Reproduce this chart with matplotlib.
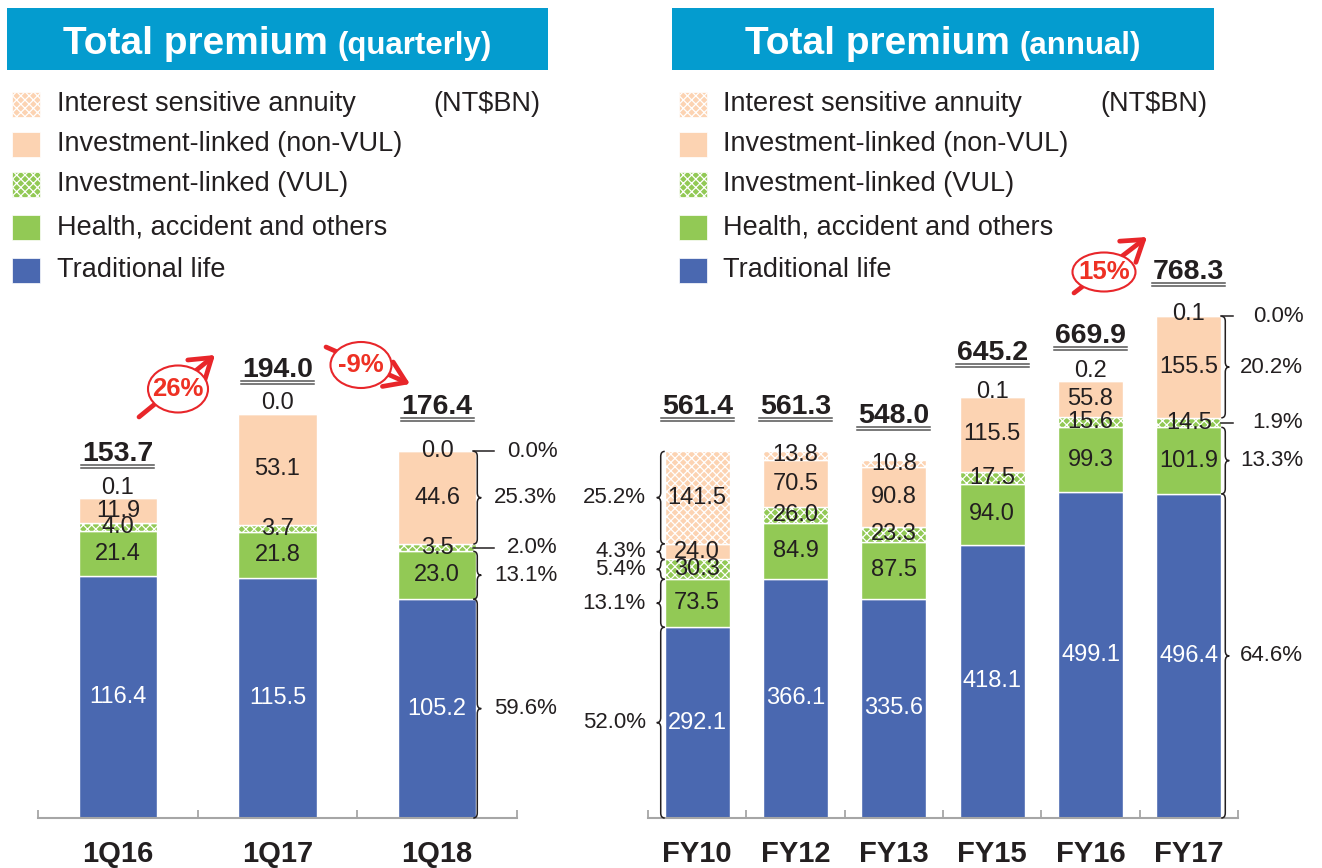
import matplotlib
matplotlib.use("Agg")
import matplotlib.pyplot as plt
import numpy as np
from matplotlib.patches import Rectangle, Ellipse, FancyArrowPatch, PathPatch
from matplotlib.path import Path
from matplotlib.lines import Line2D
from matplotlib.transforms import IdentityTransform

plt.rcParams['font.family'] = ['Liberation Sans', 'DejaVu Sans']
plt.rcParams['hatch.linewidth'] = 0.9

# ---------------- data ----------------
series = ["Traditional life", "Health, accident and others",
          "Investment-linked (VUL)", "Investment-linked (non-VUL)",
          "Interest sensitive annuity"]

q_cats = ["1Q16", "1Q17", "1Q18"]
q_trad = [116.4, 115.5, 105.2]
q_health = [21.4, 21.8, 23.0]
q_vul = [4.0, 3.7, 3.5]
q_nonvul = [11.9, 53.1, 44.6]
q_annuity = [0.1, 0.0, 0.0]
q_totals = ["153.7", "194.0", "176.4"]
q_pct_1Q18 = [59.6, 13.1, 2.0, 25.3, 0.0]

a_cats = ["FY10", "FY12", "FY13", "FY15", "FY16", "FY17"]
a_trad = [292.1, 366.1, 335.6, 418.1, 499.1, 496.4]
a_health = [73.5, 84.9, 87.5, 94.0, 99.3, 101.9]
a_vul = [30.3, 26.0, 23.3, 17.5, 15.6, 14.5]
a_nonvul = [24.0, 70.5, 90.8, 115.5, 55.8, 155.5]
a_annuity = [141.5, 13.8, 10.8, 0.1, 0.2, 0.1]
a_totals = ["561.4", "561.3", "548.0", "645.2", "669.9", "768.3"]
a_pct_FY10 = [52.0, 13.1, 5.4, 4.3, 25.2]
a_pct_FY17 = [64.6, 13.3, 1.9, 20.2, 0.0]

growth_labels = ["26%", "-9%", "15%"]
unit_label = "(NT$BN)"

# ---------------- style ----------------
W, H = 1322, 868
DARK = '#231F20'
RED = '#E8262A'
RED_TXT = '#EE3124'
BANNER = '#049CCF'
styles = [
    dict(color='#4A68B0', hatch=None),
    dict(color='#92C955', hatch=None),
    dict(color='#92C955', hatch='xxxx'),
    dict(color='#FCD3B2', hatch=None),
    dict(color='#FCD3B2', hatch='xxxx'),
]
q_lift_px = [10, 11, 0]
a_lift_px = [0, -4, -4, 5, 9, 2]

fig = plt.figure(figsize=(W / 100, H / 100), dpi=100)
fig.patch.set_facecolor('white')


def fx(x):
    return x / W


def fy(y):
    return 1 - y / H


def add_axes_px(x0, x1, ytop, ybot):
    return fig.add_axes([x0 / W, 1 - ybot / H, (x1 - x0) / W, (ybot - ytop) / H])


q_ymax, a_ymax = 200, 800
axq = add_axes_px(38, 517, 818 - q_ymax * 2.08, 818)
axa = add_axes_px(648, 1238, 818 - a_ymax * 0.653, 818)

renderer = fig.canvas.get_renderer()


def setup(ax, cats, ymax):
    n = len(cats)
    ax.set_xlim(-0.5, n - 0.5)
    ax.set_ylim(0, ymax)
    ax.patch.set_alpha(0)
    for s in ['top', 'left', 'right']:
        ax.spines[s].set_visible(False)
    ax.spines['bottom'].set_color('#A6A6A6')
    ax.spines['bottom'].set_linewidth(1.5)
    ax.set_yticks([])
    ax.set_xticks(range(n))
    ax.set_xticklabels(cats, fontsize=21, fontweight='bold', color=DARK)
    ax.set_xticks(np.arange(-0.5, n, 1.0), minor=True)
    ax.tick_params(axis='x', which='major', length=0, pad=16)
    ax.tick_params(axis='x', which='minor', direction='in', length=6,
                   width=1.3, color='#A6A6A6')


def ppu(ax):
    bb = ax.get_window_extent(renderer)
    x0, x1 = ax.get_xlim()
    y0, y1 = ax.get_ylim()
    return bb.width / (x1 - x0), bb.height / (y1 - y0)


def draw_panel(ax, cats, stacks, totals, lifts, bw):
    n = len(cats)
    x = np.arange(n)
    xp, yp = ppu(ax)
    bottom = np.zeros(n)
    for i, (vals, st) in enumerate(zip(stacks, styles)):
        vals = np.array(vals)
        ax.bar(x, vals, width=bw, bottom=bottom, color=st['color'],
               hatch=st['hatch'], edgecolor='white', linewidth=1.0, zorder=2)
        for j in range(n):
            v = vals[j]
            if i == 4 and v * yp < 12:
                yc = bottom[j] + v + lifts[j] / yp
            else:
                yc = bottom[j] + v / 2
            ax.text(x[j], yc, f"{v:.1f}", ha='center', va='center',
                    fontsize=17, color='white' if i == 0 else DARK, zorder=4)
        bottom = bottom + vals
    # totals with double underline
    for j in range(n):
        top = bottom[j]
        t = ax.annotate(totals[j], xy=(x[j], top), xytext=(0, 37 * 0.72),
                        textcoords='offset points', ha='center', va='baseline',
                        fontsize=20.5, fontweight='bold', color=DARK, zorder=4)
        bb = t.get_window_extent(renderer)
        base_y = ax.transData.transform((x[j], top))[1] + 37
        for dy in (4, 7):
            fig.add_artist(Line2D([bb.x0 - 1, bb.x1 + 1], [base_y - dy, base_y - dy],
                                  transform=IdentityTransform(), color='#555555',
                                  lw=1.1))
    return bottom


def brace(ax, xb, y0, y1, d, w_px=8, r_px=5):
    xp, yp = ppu(ax)
    w = d * w_px / xp
    r = min(r_px, (y1 - y0) * yp / 4) / yp
    xm = xb + w / 2
    xt = xb + w
    ym = (y0 + y1) / 2
    verts = [(xb, y0), (xm, y0), (xm, y0 + r), (xm, ym - r), (xm, ym), (xt, ym),
             (xm, ym), (xm, ym + r), (xm, y1 - r), (xm, y1), (xb, y1)]
    codes = [Path.MOVETO, Path.CURVE3, Path.CURVE3, Path.LINETO, Path.CURVE3,
             Path.CURVE3, Path.CURVE3, Path.CURVE3, Path.LINETO, Path.CURVE3,
             Path.CURVE3]
    ax.add_patch(PathPatch(Path(verts, codes), fill=False, edgecolor=DARK,
                           lw=1.1, clip_on=False, zorder=5))


def bar_shares(ax, j, stacks, pcts, bw, side, base_off, line_a, line_b, txt_off):
    xp, yp = ppu(ax)
    d = 1 if side == 'right' else -1
    edge = j + d * bw / 2
    b = 0.0
    for i, p in enumerate(pcts):
        v = stacks[i][j]
        y0, y1 = b, b + v
        ym = (y0 + y1) / 2
        if v * yp < 12:
            ax.plot([edge + d * line_a / xp, edge + d * line_b / xp], [ym, ym],
                    color=DARK, lw=1.1, clip_on=False, zorder=5)
        else:
            brace(ax, edge + d * base_off / xp, y0, y1, d)
        ax.annotate(f"{p:.1f}%", xy=(edge, ym), xytext=(txt_off * 0.72, 0),
                    textcoords='offset points', ha='right', va='center',
                    fontsize=16, color=DARK, annotation_clip=False)
        b = y1


setup(axq, q_cats, q_ymax)
setup(axa, a_cats, a_ymax)

q_stacks = [q_trad, q_health, q_vul, q_nonvul, q_annuity]
a_stacks = [a_trad, a_health, a_vul, a_nonvul, a_annuity]
q_bw, a_bw = 0.49, 0.66
draw_panel(axq, q_cats, q_stacks, q_totals, q_lift_px, q_bw)
draw_panel(axa, a_cats, a_stacks, a_totals, a_lift_px, a_bw)

bar_shares(axq, 2, q_stacks, q_pct_1Q18, q_bw, 'right', -3, -3, 18, 81)
bar_shares(axa, 5, a_stacks, a_pct_FY17, a_bw, 'right', 0, 0, 12, 82)
bar_shares(axa, 0, a_stacks, a_pct_FY10, a_bw, 'left', 0, 0, 12, -19)

# ---------------- banners ----------------
for (x0, x1), sub in [((7, 548), "(quarterly)"), ((672, 1214), "(annual)")]:
    fig.add_artist(Rectangle((fx(x0), fy(70)), (x1 - x0) / W, 62 / H,
                             transform=fig.transFigure, facecolor=BANNER,
                             edgecolor='none', zorder=1))
    t1 = fig.text(0, fy(54), "Total premium", fontsize=28, fontweight='bold',
                  color='white', va='baseline', ha='left', zorder=2)
    t2 = fig.text(0, fy(54), sub, fontsize=22.5, fontweight='bold',
                  color='white', va='baseline', ha='left', zorder=2)
    w1 = t1.get_window_extent(renderer).width
    w2 = t2.get_window_extent(renderer).width
    total = w1 + 10 + w2
    start = (x0 + x1) / 2 - total / 2
    t1.set_x(fx(start))
    t2.set_x(fx(start + w1 + 10))

# ---------------- legends ----------------
row_tops = [92, 132, 172, 215, 258]
for px0, tx0, ux in [(12, 57, 433), (679, 723, 1100)]:
    for k, idx in enumerate([4, 3, 2, 1, 0]):
        st = styles[idx]
        fig.add_artist(Rectangle((fx(px0), fy(row_tops[k] + 25)), 28 / W, 25 / H,
                                 transform=fig.transFigure, facecolor=st['color'],
                                 hatch=st['hatch'], edgecolor='white', lw=0.5))
        fig.text(fx(tx0), fy(row_tops[k] + 19), series[idx], fontsize=19.5,
                 color=DARK, va='baseline', ha='left')
    fig.text(fx(ux), fy(row_tops[0] + 19), unit_label, fontsize=19.5,
             color=DARK, va='baseline', ha='left')

# ---------------- growth arrows ----------------
growth_marks = [
    dict(a=(139, 417), b=(215, 355), c=(178, 389), w=60, h=47),
    dict(a=(326, 347), b=(410, 384), c=(361, 365), w=61, h=46),
    dict(a=(1074, 293), b=(1147, 237), c=(1104, 272), w=63, h=39),
]
for lab, g in zip(growth_labels, growth_marks):
    arr = FancyArrowPatch((fx(g['a'][0]), fy(g['a'][1])), (fx(g['b'][0]), fy(g['b'][1])),
                          transform=fig.transFigure,
                          arrowstyle='->,head_length=0.6,head_width=0.4',
                          mutation_scale=24, lw=3.4, color=RED,
                          shrinkA=0, shrinkB=0, zorder=6)
    fig.add_artist(arr)
    fig.add_artist(Ellipse((fx(g['c'][0]), fy(g['c'][1])), g['w'] / W, g['h'] / H,
                           transform=fig.transFigure, facecolor='white',
                           edgecolor=RED, lw=1.5, zorder=7))
    fig.text(fx(g['c'][0]), fy(g['c'][1]), lab, fontsize=18.5, fontweight='bold',
             color=RED_TXT, ha='center', va='center', zorder=8)

fig.savefig("out.png", dpi=100, facecolor='white')
